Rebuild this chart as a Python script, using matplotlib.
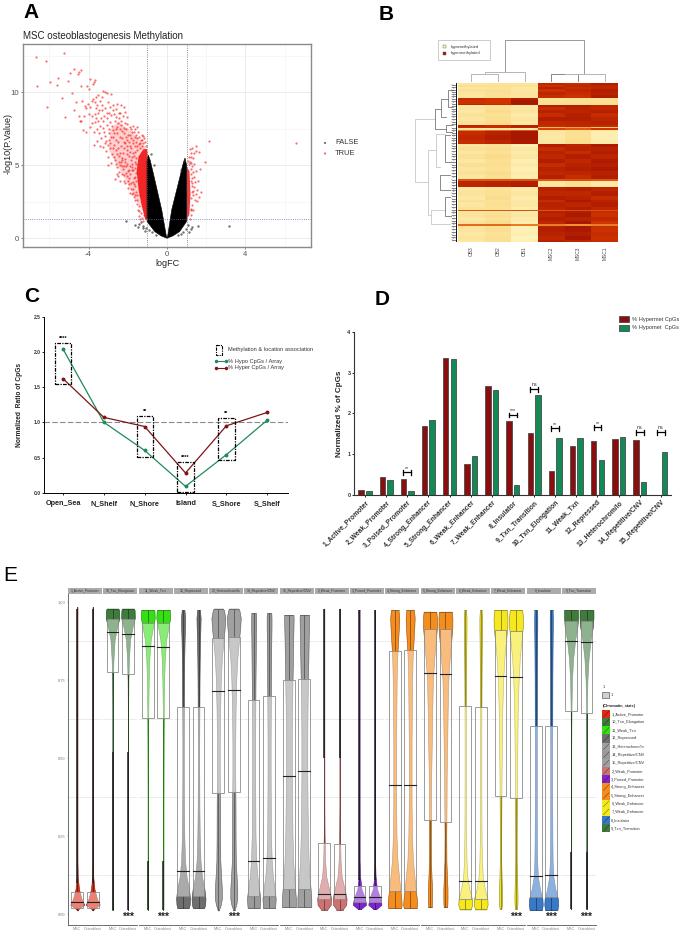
import numpy as np
import matplotlib
matplotlib.use("Agg")
import matplotlib.pyplot as plt
from matplotlib.colors import LinearSegmentedColormap
from matplotlib.patches import Rectangle

plt.rcParams['font.family'] = ['Liberation Sans', 'DejaVu Sans']

FIG_W, FIG_H = 685, 936

# ---- panel A: volcano ----
false_left_x = [0, -0.3, -0.62, -0.85, -1.02, -1.02, -0.96, -0.86, -0.7, -0.27, -0.04]
false_left_y = [0, 0.16, 0.45, 0.85, 1.15, 5.3, 5.7, 5.35, 4.45, 1.94, 0.2]
false_right_x = [0, 0.3, 0.64, 0.85, 1.0, 1.0, 0.92, 0.8, 0.66, 0.24, 0.04]
false_right_y = [0, 0.16, 0.45, 0.85, 1.15, 5.0, 5.5, 5.0, 4.2, 1.94, 0.2]
false_stray_x = [-2.1, -1.62, -1.5, -1.22, -1.2, -1.35, -1.1, 1.3, 1.2, 1.6, 3.15, 1.08, 1.1, -1.42, -1.05, -0.9,
                 -0.78, 0.95, 0.82, 0.72, -0.55, 0.55, -0.8, 0.86, -0.66, 0.74]
false_stray_y = [1.2, 0.9, 0.8, 0.85, 0.68, 1.1, 0.5, 0.8, 0.6, 0.85, 0.85, 0.9, 0.45, 0.95, 0.7, 0.55,
                 0.4, 0.6, 0.45, 0.3, 0.2, 0.2, 5.75, 5.3, 5.0, 4.7]

red_cloud_x = [-1.0, -1.5, -2.0, -2.5, -2.95, -2.9, -2.5, -1.9, -1.3, -1.0]
red_cloud_y = [1.3, 2.5, 3.7, 4.9, 6.0, 7.4, 8.0, 7.4, 6.6, 6.0]
red_dense_x = [-1.0, -1.12, -1.3, -1.45, -1.55, -1.45, -1.2, -1.02, -1.0]
red_dense_y = [1.25, 1.3, 2.3, 3.3, 4.6, 5.6, 6.1, 6.1, 5.8]
red_dense_right_x = [1.0, 1.14, 1.2, 1.15, 1.0]
red_dense_right_y = [1.3, 1.6, 3.0, 4.6, 4.9]

red_pts = [
    (-6.71, 12.43), (-5.28, 12.66), (-6.17, 12.16), (-6.66, 10.45), (-5.96, 10.68), (-5.54, 10.95),
    (-5.62, 10.52), (-6.12, 8.98), (-5.37, 9.61), (-5.23, 8.3), (-4.86, 9.95), (-5.06, 10.8),
    (-4.94, 11.3), (-4.75, 11.6), (-4.5, 11.36), (-4.4, 11.55), (-4.52, 11.22), (-4.41, 10.4),
    (-4.1, 10.4), (-3.99, 10.2), (-3.92, 10.9), (-3.7, 10.86), (-3.8, 10.55), (-3.75, 10.7),
    (-4.67, 9.3), (-4.74, 8.8), (-4.33, 9.43), (-4.5, 8.35), (-4.4, 8.05), (-4.3, 7.4), (-4.12, 7.3),
    (-4.43, 8.0), (-4.05, 9.2), (-4.15, 8.95), (-3.95, 9.0), (-3.85, 9.4), (-3.8, 9.55), (-3.65, 9.35),
    (-3.55, 9.1), (-3.4, 9.4), (-3.3, 9.7), (-3.25, 10.1), (-3.15, 10.0), (-3.05, 9.95), (-2.85, 9.9),
    (-3.45, 8.8), (-3.5, 8.6), (-3.7, 8.5), (-3.85, 8.35), (-3.65, 7.95), (-3.6, 8.2), (-3.3, 8.8),
    (-3.15, 8.9), (-3.0, 9.3), (-2.9, 9.0), (-2.75, 9.15), (-2.6, 8.85), (-2.55, 9.2), (-2.35, 9.15),
    (-2.2, 9.0), (-2.45, 8.6), (-2.7, 8.5), (-2.85, 8.45), (-3.05, 8.2), (-3.25, 8.0), (-3.4, 7.7),
    (-3.55, 7.5), (-3.45, 7.2), (-3.25, 7.55), (-3.05, 7.75), (-2.9, 7.95), (-2.65, 8.05), (-2.45, 8.2),
    (-2.25, 8.35), (-2.05, 8.3), (-2.15, 7.9), (-2.35, 7.75), (-2.55, 7.65), (-2.75, 7.4), (-2.95, 7.2),
    (-3.15, 7.0), (-3.35, 6.85), (-3.55, 6.65), (-3.4, 6.3), (-3.15, 6.55), (-2.95, 6.75), (-2.75, 6.95),
    (-2.55, 7.2), (-2.3, 7.35), (-2.1, 7.5), (-1.9, 7.65), (-1.75, 7.7), (-1.55, 7.6), (-1.5, 7.3),
    (-1.7, 7.25), (-1.9, 7.05), (-2.1, 6.95), (-2.3, 6.85), (-2.5, 6.6), (-2.7, 6.4), (-2.9, 6.2),
    (-3.1, 5.95), (-3.0, 5.55), (-2.8, 5.8), (-2.6, 6.05), (-2.35, 6.3), (-2.15, 6.5), (-1.95, 6.6),
    (-1.75, 6.75), (-1.55, 6.85), (-1.35, 6.7), (-1.3, 7.05), (-1.2, 6.5), (-1.45, 6.45), (-1.65, 6.3),
    (-1.85, 6.15), (-2.05, 6.05), (-2.25, 5.85), (-2.45, 5.6), (-2.65, 5.35), (-2.85, 5.15), (-3.0, 5.0),
    (-2.55, 4.9), (-2.35, 5.2), (-2.15, 5.45), (-1.95, 5.65), (-1.75, 5.85), (-1.85, 5.35), (-2.05, 5.05),
    (-2.25, 4.75), (-2.45, 4.55), (-2.65, 4.05), (-2.4, 3.95), (-2.2, 4.3), (-2.0, 4.6), (-1.8, 4.85),
    (-1.95, 4.15), (-2.15, 3.75), (-2.0, 3.45), (-1.85, 3.8), (-1.75, 3.35), (-1.9, 3.1), (-1.65, 2.95),
    (-1.55, 2.6), (-1.6, 3.15), (-1.45, 2.2), (-1.35, 1.75), (-1.4, 2.95), (-1.7, 4.1), (-1.6, 4.45),
    (-1.9, 4.4), (-2.1, 4.95), (-1.65, 5.25), (-1.7, 5.6), (-1.55, 6.05), (-1.4, 6.15), (-2.4, 6.95),
    (-2.0, 7.1), (-1.8, 7.3), (-1.6, 7.05), (-2.5, 7.9), (-2.2, 7.55), (-2.95, 8.6), (-3.2, 8.4),
    (-3.6, 8.95), (-4.0, 8.5), (-1.25, 7.0), (-1.15, 6.85), (-1.05, 6.35), (-1.12, 6.6), (-1.3, 6.35),
    (-1.9, 5.9), (-2.3, 5.5), (-2.7, 5.55), (-2.55, 5.75), (-2.05, 5.75), (-1.8, 4.65), (-2.3, 4.4),
    (-1.95, 3.7), (-1.75, 3.85), (-1.8, 3.05), (-1.65, 3.6), (-1.55, 2.95), (-1.45, 1.85), (-1.3, 1.4),
    (-2.45, 5.25), (-2.9, 6.5), (-2.6, 6.75), (-3.1, 6.65), (-2.2, 6.6), (-1.6, 6.6), (-3.75, 6.4),
    # thickening next to the black arm
    (-1.58, 3.9), (-1.62, 4.2), (-1.68, 3.7), (-1.72, 4.7), (-1.78, 5.1), (-1.6, 5.05), (-1.62, 4.8), (-1.56, 5.5),
    (-1.64, 5.9), (-1.8, 5.55), (-1.9, 4.95), (-1.92, 4.7), (-2.02, 4.25), (-1.72, 3.1), (-1.5, 1.95), (-1.52, 2.35),
    (-1.42, 1.55), (-1.38, 1.35), (-1.25, 1.2), (-1.18, 1.6), (-1.62, 2.65), (-1.7, 2.85), (-1.82, 3.4), (-1.98, 3.95),
    (-2.1, 4.45), (-2.18, 4.95), (-2.32, 4.95), (-2.42, 5.0), (-2.6, 5.1), (-2.48, 4.25), (-2.2, 3.95), (-2.55, 4.4),
    (-2.28, 5.35), (-2.12, 5.25), (-2.38, 5.85), (-2.18, 6.2), (-2.52, 6.2), (-2.05, 6.35), (-1.88, 6.35), (-1.72, 6.5),
    (-1.52, 6.3), (-1.38, 6.55), (-1.28, 6.75), (-1.42, 6.9), (-1.62, 6.95), (-1.85, 6.85), (-2.02, 6.75), (-2.2, 7.2),
    (-2.42, 7.5), (-2.62, 7.45), (-2.82, 7.7), (-2.98, 7.5), (-2.68, 7.2), (-2.85, 6.95), (-3.02, 6.4), (-2.75, 6.15),
    (-3.25, 6.25), (-3.2, 7.3), (-3.35, 8.25), (-3.5, 8.05), (-2.35, 8.0), (-2.05, 7.85), (-1.85, 7.5), (-1.65, 7.5),
    (-2.6, 8.3), (-2.75, 8.8), (-3.08, 8.55), (-2.38, 8.55), (-2.12, 8.65), (-3.85, 7.9), (-3.72, 7.25), (-3.95, 7.65),
    (-4.25, 8.35), (-4.2, 9.05), (-3.5, 9.8), (-3.6, 9.65), (-3.3, 9.1),
    # positive side
    (2.13, 6.67), (6.6, 6.5), (1.47, 6.3), (1.3, 6.2), (1.17, 6.1), (1.4, 5.85), (1.65, 5.9), (1.5, 5.95),
    (1.25, 5.85), (1.33, 5.5), (1.2, 5.55), (1.08, 5.3), (1.4, 5.05), (1.95, 5.2), (1.7, 4.75), (1.5, 4.6),
    (1.3, 4.95), (1.12, 5.05), (1.25, 4.4), (1.4, 4.2), (1.45, 3.85), (1.6, 3.9), (1.3, 3.8), (1.55, 3.3),
    (1.75, 3.15), (1.65, 2.85), (1.5, 3.0), (1.35, 3.25), (1.42, 2.6), (1.3, 2.3), (1.25, 2.0), (1.35, 1.95),
    (1.28, 3.55), (1.22, 1.6), (1.15, 1.35), (1.55, 2.55), (1.2, 4.75), (1.1, 5.55), (1.25, 2.75), (1.33, 4.55),
    (1.22, 3.95), (1.28, 3.2), (1.4, 3.5), (1.2, 1.95), (1.3, 4.1), (1.18, 5.2), (1.35, 2.95), (1.25, 5.15),
]
red_x = [p[0] for p in red_pts]
red_y = [p[1] for p in red_pts]

# ---- panel B: heatmap, stripes top to bottom ----
sample_names = ['OB3', 'OB2', 'OB1', 'MSC2', 'MSC3', 'MSC1']
stripe_height = [8, 6, 8, 7, 10, 10, 4, 12, 4, 5, 10, 10, 10, 12, 13, 5, 5, 6, 3, 12, 15, 10,
                 10, 12, 10, 14, 12, 12, 14, 12, 11, 5, 15, 5, 12, 13, 12, 8, 15, 8, 3, 5, 12, 14, 9, 4, 5, 15, 12, 12, 5]
ob3 = [.22, .32, .2, .28, .22, .2, .85, .82, .9, .18, .24, .18, .26, .2, .26, .9, .85, .2, .6, .85, .88, .85,
       .22, .3, .2, .28, .18, .3, .22, .28, .2, .7, .9, .88, .2, .25, .18, .28, .2, .26, .7, .22, .25, .18, .26, .65, .22, .24, .18, .24, .2]
ob2 = [.25, .28, .25, .3, .28, .26, .8, .8, .85, .28, .3, .34, .28, .32, .34, .85, .85, .2, .65, .92, .95, .9,
       .26, .32, .28, .34, .3, .32, .28, .34, .3, .7, .92, .9, .25, .3, .34, .28, .3, .26, .7, .25, .3, .26, .34, .65, .28, .32, .26, .3, .3]
ob1 = [.25, .28, .2, .22, .24, .22, .95, 1.0, .95, .18, .2, .24, .16, .22, .18, .92, .9, .15, .7, 1.0, 1.0, .98,
       .1, .22, .14, .2, .12, .16, .08, .14, .1, .7, .95, .98, .15, .22, .14, .18, .2, .12, .72, .16, .2, .14, .12, .6, .08, .06, .1, .05, .08]
msc2 = [.88, .82, .92, .82, .9, .85, .25, .28, .3, .95, .85, .92, .85, .95, .88, .85, .45, .75, .3, .2, .18, .2,
        .95, .85, .92, .88, .95, .85, .92, .88, .93, .7, .2, .25, .92, .88, .95, .85, .92, .9, .7, .93, .9, .95, .88, .6, .9, .95, .92, .88, .93]
msc3 = [.84, .88, .84, .88, .85, .82, .3, .3, .35, .95, .92, .9, .93, .95, .9, .88, .5, .7, .35, .3, .3, .32,
        .9, .92, .85, .95, .88, .92, .95, .9, .85, .72, .3, .32, .95, .88, .92, .98, .9, .95, .72, .95, .98, .92, 1.0, .55, 1.0, .98, .95, 1.0, .9]
msc1 = [.95, .9, .88, .95, .92, .96, .3, .3, .3, .9, .88, .93, .85, .9, .92, .85, .4, .8, .2, .12, .1, .15,
        .98, .92, .95, .9, .97, .93, .98, .92, .95, .7, .15, .18, .9, .95, .85, .92, .95, .88, .72, .85, .82, .88, .8, .6, .85, .82, .85, .82, .85]

# dendrogram brackets: (left pos, right pos, bar height, left base, right base)
top_merges = [(1.75, 4.72, 127, 30, 25), (0.5, 1.5, 25, 0, 0), (1.0, 2.5, 29, 25, 0),
              (3.5, 4.5, 23, 0, 0), (4.0, 5.5, 25, 23, 0)]
top_grey = ['#999999', '#b5b5b5', '#b5b5b5', '#888888', '#b5b5b5']
side_merges = [(107, 297, 127, 67, 87), (77, 137, 67, 47, 32), (47, 102, 47, 27, 32), (22, 72, 27, 12, 14),
               (127, 147, 32, 15, 15), (202, 397, 87, 62, 80), (152, 252, 62, 37, 52), (157, 237, 37, 20, 18),
               (275, 320, 52, 22, 22), (382, 422, 80, 37, 22), (342, 400, 37, 20, 18)]
side_light = [0, 5, 6, 9]
side_leaf_y = [5, 12, 20, 26, 33, 40, 47, 55, 62, 70, 78, 85, 92, 100, 108, 116, 124, 135, 142, 150, 156, 165, 172, 181,
               188, 195, 204, 212, 219, 228, 236, 245, 252, 262, 270, 280, 290, 298, 306, 315, 322, 330, 338, 347,
               355, 363, 372, 381, 388, 396, 405, 414, 421, 430, 438, 447, 455, 463, 470]

# ---- panel C ----
regions = ['Open_Sea', 'N_Shelf', 'N_Shore', 'Island', 'S_Shore', 'S_Shelf']
hypo_ratio = [2.04, 1.0, 0.6, 0.09, 0.54, 1.03]
hyper_ratio = [1.62, 1.07, 0.94, 0.28, 0.95, 1.14]
assoc_region = [0, 2, 3, 4]
assoc_lo = [1.54, 0.51, 0.015, 0.46]
assoc_hi = [2.13, 1.09, 0.44, 1.06]
assoc_stars = ['****', '**', '****', '**']

# ---- panel D ----
states_d = ['1_Active_Promoter', '2_Weak_Promoter', '3_Poised_Promoter', '4_Strong_Enhancer', '5_Strong_Enhancer',
            '6_Weak_Enhancer', '7_Weak_Enhancer', '8_Insulator', '9_Txn_Transition', '10_Txn_Elongation',
            '11_Weak_Txn', '12_Repressed', '13_Heterochrom/lo', '14_Repetitive/CNV', '15_Repetitive/CNV']
hypermet = [.13, .43, .40, 1.70, 3.35, .75, 2.68, 1.81, 1.52, .60, 1.20, 1.32, 1.38, 1.34, 0]
hypomet = [.11, .36, .09, 1.84, 3.33, .96, 2.56, .25, 2.46, 1.39, 1.39, .86, 1.43, .32, 1.05]
sig_group = [2, 7, 8, 9, 11, 13, 14]
sig_level = [.557, 1.96, 2.59, 1.63, 1.66, 1.54, 1.54]
sig_label = ['**', '***', 'ns', '**', '**', 'ns', 'ns']

# ---- panel E: one entry per facet ----
facet_names = ['1_Active_Promoter', '10_Txn_Elongation', '11_Weak_Txn', '12_Repressed', '13_Heterochrom/lo',
               '14_Repetitive/CNV', '15_Repetitive/CNV', '2_Weak_Promoter', '3_Poised_Promoter', '4_Strong_Enhancer',
               '5_Strong_Enhancer', '6_Weak_Enhancer', '7_Weak_Enhancer', '8_Insulator', '9_Txn_Transition']
facet_colors = ['#DE2A12', '#3E7B3C', '#35DF12', '#6E6E6E', '#A0A0A0', '#9A9A9A', '#A0A0A0', '#CC7272', '#7C25CC',
                '#F58C1E', '#F58C1E', '#F6E81E', '#F6E81E', '#3A78C8', '#3E7B3C']
msc_q1 = [.02, .776, .628, .058, .388, .059, .079, .047, .04, .075, .303, .047, .379, .054, .652]
msc_med = [.04, .905, .859, .137, .716, .169, .442, .066, .054, .413, .773, .107, .764, .121, .876]
msc_q3 = [.07, .945, .934, .665, .885, .687, .75, .228, .089, .844, .914, .667, .91, .602, .939]
ost_q1 = [.02, .77, .628, .058, .391, .058, .079, .047, .04, .074, .294, .047, .372, .054, .646]
ost_med = [.04, .90, .857, .137, .718, .179, .458, .066, .054, .413, .771, .107, .76, .124, .873]
ost_q3 = [.07, .945, .934, .665, .889, .70, .753, .226, .089, .846, .914, .663, .909, .603, .939]
violin_min = [.012, .014, .014, .02, .012, .02, .023, .014, .016, .02, .022, .015, .017, .013, .016]
violin_max = [.985, .98, .975, .975, .98, .965, .96, .98, .975, .975, .97, .975, .975, .975, .975]
# stretch of the tail that looks black and thick
tail_lo = [.10, .014, .014, 0, 0, 0, 0, .50, .11, 0, 0, 0, 0, 0, .016]
tail_hi = [.98, .52, .17, 0, 0, 0, 0, .98, .975, 0, 0, 0, 0, 0, .20]
star_facets = [1, 2, 4, 12, 13, 14]

violin_levels = [.015, .03, .05, .08, .12, .17, .25, .35, .45, .55, .65, .75, .82, .88, .92, .95, .975, .99]
violin_width = [
    [.10, 1, .60, .25, .07, .03, .03, .03, .03, .03, .03, .03, .03, .03, .03, .03, .03, .03],
    [.03, .03, .03, .03, .03, .03, .03, .03, .03, .03, .03, .05, .14, .30, .65, .98, .95, .60],
    [.03, .03, .03, .03, .03, .03, .03, .03, .04, .05, .07, .13, .22, .42, .75, 1, .95, .70],
    [.75, .95, 1, .85, .50, .28, .17, .12, .10, .10, .12, .14, .17, .22, .27, .30, .20, .05],
    [.12, .35, .50, .50, .40, .28, .25, .24, .20, .20, .25, .35, .50, .75, .92, 1, .80, .40],
    [.85, .90, .95, .80, .55, .38, .27, .24, .22, .22, .24, .27, .30, .32, .35, .35, .30, .20],
    [1, 1, 1, .90, .75, .62, .52, .46, .42, .42, .45, .52, .58, .62, .66, .68, .60, .30],
    [.45, .95, 1, .72, .30, .14, .06, .03, .03, .03, .03, .03, .03, .03, .03, .03, .03, .03],
    [.15, .95, .80, .30, .10, .03, .02, .02, .02, .02, .02, .02, .02, .02, .02, .02, .02, .02],
    [.90, 1, .95, .80, .62, .40, .26, .20, .20, .20, .24, .28, .35, .50, .60, .65, .55, .20],
    [.20, .28, .30, .30, .22, .14, .12, .16, .18, .26, .32, .42, .62, .85, 1, 1, .90, .50],
    [.80, 1, .95, .60, .30, .18, .12, .10, .09, .09, .10, .12, .14, .16, .18, .18, .12, .05],
    [.12, .20, .22, .20, .15, .10, .10, .12, .15, .20, .25, .38, .55, .80, .98, 1, .90, .50],
    [.90, 1, .95, .60, .30, .20, .16, .14, .14, .14, .15, .16, .18, .20, .22, .22, .20, .10],
    [.03, .03, .03, .03, .03, .03, .03, .03, .03, .03, .05, .13, .30, .60, .90, 1, 1, .80],
]


def ax_px(fig, x0, y0, x1, y1):
    # axes placed by pixel box (y measured from the top)
    return fig.add_axes([x0 / FIG_W, 1 - y1 / FIG_H, (x1 - x0) / FIG_W, (y1 - y0) / FIG_H])


def darker(color, k=0.55):
    rgb = np.array(matplotlib.colors.to_rgb(color))
    return tuple(rgb * k)


def plot_volcano(fig, page):
    ax = ax_px(fig, 23, 44, 311, 247)
    ax.set_xlim(-7.35, 7.35)
    ax.set_ylim(-0.6, 13.3)
    for v in [-6, -2, 2, 6]:
        ax.axvline(v, color='#f4f4f4', lw=0.5, zorder=0)
    for v in [2.5, 7.5, 12.5]:
        ax.axhline(v, color='#f4f4f4', lw=0.5, zorder=0)
    ax.grid(True, color='#ececec', lw=0.7, zorder=0)
    ax.set_axisbelow(True)
    ax.fill(red_cloud_x, red_cloud_y, color='#ff2a2a', alpha=0.22, lw=0, zorder=1)
    ax.fill(red_dense_x, red_dense_y, color='#f00808', alpha=0.85, lw=0, zorder=2)
    ax.fill(red_dense_right_x, red_dense_right_y, color='#f00808', alpha=0.8, lw=0, zorder=2)
    ax.scatter(red_x, red_y, s=2.6, color='#fa1010', alpha=0.6, lw=0, zorder=2)
    ax.fill(false_left_x, false_left_y, color='black', lw=0.4, zorder=3)
    ax.fill(false_right_x, false_right_y, color='black', lw=0.4, zorder=3)
    ax.scatter(false_stray_x, false_stray_y, s=3, color='#333333', alpha=0.7, lw=0, zorder=3)
    ax.axvline(-1, color='#666666', lw=0.6, ls=':', zorder=4)
    ax.axvline(1, color='#666666', lw=0.6, ls=':', zorder=4)
    ax.axhline(1.3, color='#6a6ac8', lw=0.6, ls=':', zorder=4)
    ax.set_xticks([-4, 0, 4])
    ax.set_xticklabels(['-4', '0', '4'])
    ax.set_yticks([0, 5, 10])
    ax.tick_params(labelsize=5.6, labelcolor='#555555', color='#555555', length=1.5, width=0.5, pad=1.5)
    for s in ax.spines.values():
        s.set_color('#8a8a8a')
        s.set_linewidth(1.0)
    page.text(167, 263, 'logFC', fontsize=6.5, color='#222222', ha='center', va='center')
    page.text(8, 143, '-log10(P.Value)', fontsize=6.5, color='#222222', rotation=90, ha='center', va='center')
    page.text(23, 39, 'MSC osteoblastogenesis Methylation', fontsize=7.0, color='#222222', va='baseline')
    page.scatter([325, 325], [143, 153.5], s=2.5, color=['#333333', '#ff2020'], alpha=0.7, lw=0)
    page.text(335, 143, 'FALSE', fontsize=5.4, color='#333333', va='center')
    page.text(335, 153.5, 'TRUE', fontsize=5.4, color='#333333', va='center')


def plot_heatmap(fig, page):
    ax = ax_px(fig, 458, 83, 618, 242)
    rows = np.repeat(np.arange(len(stripe_height)), stripe_height)
    matrix = np.array([ob3, ob2, ob1, msc2, msc3, msc1]).T[rows]
    cmap = LinearSegmentedColormap.from_list('heat', [(0, '#fff6c0'), (0.35, '#fbdc8c'), (0.55, '#f09030'),
                                                      (0.8, '#cf3300'), (1, '#a81800')])
    ax.imshow(matrix, aspect='auto', cmap=cmap, vmin=0, vmax=1, interpolation='nearest')
    ax.set_xticks(np.arange(6))
    ax.set_xticklabels(sample_names, rotation=90, fontsize=3.5, color='#444444')
    ax.set_yticks([])
    ax.tick_params(length=0, pad=3)
    for s in ax.spines.values():
        s.set_visible(False)

    top = ax_px(fig, 458, 39, 618, 82)
    top.set_xlim(0, 6)
    top.set_ylim(0, 129)
    top.axis('off')
    for (a, b, h, ba, bb), c in zip(top_merges, top_grey):
        top.plot([a, a, b, b], [ba, h, h, bb], color=c, lw=0.7)

    side = ax_px(fig, 415, 83, 457, 242)
    side.set_xlim(127, 0)
    side.set_ylim(477, 0)
    side.axis('off')
    for i, (a, b, h, ba, bb) in enumerate(side_merges):
        c = '#c8c8c8' if i in side_light else '#777777'
        side.plot([ba, h, h, bb], [a, a, b, b], color=c, lw=0.6)
    for y in side_leaf_y:
        side.plot([0, 16], [y, y], color='#333333', lw=0.4)
        side.plot([16, 9], [y, y + 4], color='#666666', lw=0.35)
    side.plot([1, 1], [0, 477], color='black', lw=1.3)

    page.add_patch(Rectangle((438, 40), 52, 20, fc='white', ec='#cccccc', lw=0.7))
    page.add_patch(Rectangle((443, 45), 3.2, 3.2, fc='#fff6c0', ec='#555555', lw=0.3))
    page.add_patch(Rectangle((443, 51.5), 3.2, 3.2, fc='#a81800', ec='#555555', lw=0.3))
    page.text(451, 46.7, 'hypomethylated', fontsize=2.9, color='#333333', va='center')
    page.text(451, 53.2, 'hypermethylated', fontsize=2.9, color='#333333', va='center')


def plot_regions(fig, page):
    ax = ax_px(fig, 44, 316.7, 288, 492.7)
    ax.set_xlim(-0.466, 5.51)
    ax.set_ylim(0, 2.5)
    x = np.arange(len(regions))
    ax.axhline(1.0, color='#8a8a8a', lw=0.8, ls=(0, (5, 2)), zorder=1)
    ax.plot(x, hypo_ratio, '-o', color='#1f8a5c', lw=0.9, ms=1.8, zorder=3)
    ax.plot(x, hyper_ratio, '-o', color='#7f1416', lw=0.9, ms=1.8, zorder=3)
    for i, lo, hi, star in zip(assoc_region, assoc_lo, assoc_hi, assoc_stars):
        ax.add_patch(Rectangle((i - 0.2, lo), 0.4, hi - lo, fc='none', ec='black', lw=0.9,
                               ls=(0, (3, 1, 1, 1)), zorder=4, clip_on=False))
        ax.text(i, hi + 0.03, star, fontsize=4, fontweight='bold', ha='center', va='bottom')
    ax.set_xticks(x)
    ax.set_xticklabels(regions, fontsize=5.2, fontweight='bold', color='#222222')
    ax.set_yticks([0, 0.5, 1.0, 1.5, 2.0, 2.5])
    ax.set_yticklabels(['0.0', '0.5', '1.0', '1.5', '2.0', '2.5'], fontsize=3.6, fontweight='bold', color='#333333')
    ax.tick_params(length=1.5, width=0.6, pad=1)
    ax.tick_params(axis='x', pad=3.5)
    ax.patch.set_alpha(0)
    for s in ['top', 'right']:
        ax.spines[s].set_visible(False)
    for s in ['left', 'bottom']:
        ax.spines[s].set_linewidth(0.7)
    page.text(19.5, 405, 'Normalized  Ratio of CpGs', fontsize=4.8, fontweight='bold', rotation=90, ha='center',
              va='center', color='#222222')
    page.add_patch(Rectangle((216, 344.5), 6.5, 10, fc='none', ec='black', lw=0.8, ls=(0, (3, 1, 1, 1))))
    page.text(228, 350, 'Methylation & location association', fontsize=4.1, color='#333333', va='center')
    page.plot([216, 226], [361, 361], '-o', color='#1f8a5c', lw=0.8, ms=1.5)
    page.plot([216, 226], [368, 368], '-o', color='#7f1416', lw=0.8, ms=1.5)
    page.text(228, 361, '% Hypo CpGs / Array', fontsize=4.1, color='#333333', va='center')
    page.text(228, 368, '% Hyper CpGs / Array', fontsize=4.1, color='#333333', va='center')


def plot_states(fig, page):
    ax = ax_px(fig, 354.3, 331.7, 671, 495)
    ax.set_xlim(-0.506, 14.48)
    ax.set_ylim(0, 4)
    x = np.arange(len(states_d))
    edge = '#4a4a4a'
    ax.bar(x - 0.18, hypermet, 0.26, color='#8b0e0e', edgecolor=edge, lw=0.6)
    ax.bar(x + 0.18, hypomet, 0.26, color='#128a55', edgecolor=edge, lw=0.6)
    for g, lvl, lab in zip(sig_group, sig_level, sig_label):
        ax.plot([g - 0.18, g + 0.18], [lvl, lvl], color='black', lw=0.9)
        ax.plot([g - 0.18, g - 0.18], [lvl - 0.06, lvl + 0.06], color='black', lw=0.9)
        ax.plot([g + 0.18, g + 0.18], [lvl - 0.06, lvl + 0.06], color='black', lw=0.9)
        ax.text(g, lvl + (0.06 if lab == 'ns' else 0.04), lab, fontsize=3.8, ha='center', va='bottom', color='#222222')
    ax.set_xticks(x)
    ax.set_xticklabels(states_d, rotation=45, ha='right', rotation_mode='anchor', fontsize=4.9, fontweight='bold',
                       color='#333333')
    ax.set_yticks([0, 1, 2, 3, 4])
    ax.set_yticklabels(['0', '1', '2', '3', '4'], fontsize=4, fontweight='bold', color='#333333')
    ax.tick_params(length=1.5, width=0.6, pad=1.2)
    for s in ['top', 'right']:
        ax.spines[s].set_visible(False)
    for s in ['left', 'bottom']:
        ax.spines[s].set_linewidth(0.8)
        ax.spines[s].set_color('#333333')
    ax.set_ylabel('Normalized % of CpGs', fontsize=5.8, fontweight='bold', color='#222222', labelpad=3)
    page.add_patch(Rectangle((619, 316), 10, 6, fc='#8b0e0e', ec=edge, lw=0.6))
    page.add_patch(Rectangle((619, 325), 10, 6, fc='#128a55', ec=edge, lw=0.6))
    page.text(632, 319, '% Hypermet CpGs', fontsize=4.1, color='#333333', va='center')
    page.text(632, 328, '% Hypomet  CpGs', fontsize=4.1, color='#333333', va='center')


def draw_violin(ax, pos, k, q1, med, q3):
    color = facet_colors[k]
    dark = darker(color)
    lo, hi = violin_min[k], violin_max[k]
    keep = [i for i, v in enumerate(violin_levels) if lo < v < hi]
    ys = [lo] + [violin_levels[i] for i in keep] + [hi]
    ws = np.interp(ys, violin_levels, violin_width[k]) * 0.45
    ax.fill_betweenx(ys, pos - ws, pos + ws, facecolor=color, edgecolor=dark, lw=0.4, zorder=2)
    ax.plot([pos - ws[0], pos + ws[0]], [lo, lo], color=dark, lw=0.4, zorder=2)
    ax.plot([pos - ws[-1], pos + ws[-1]], [hi, hi], color=dark, lw=0.4, zorder=2)
    ax.plot([pos, pos], [lo, q1], color=dark, lw=0.6, zorder=3)
    ax.plot([pos, pos], [q3, hi], color=dark, lw=0.6, zorder=3)
    ax.add_patch(Rectangle((pos - 0.38, q1), 0.76, q3 - q1, fc=(1, 1, 1, 0.42), ec='#8c8c8c', lw=0.6, zorder=4))
    ax.plot([pos - 0.38, pos + 0.38], [med, med], color='#222222', lw=0.8, zorder=5)
    if tail_hi[k] > 0:
        # the black run of the tail sits outside the box
        a, b = tail_lo[k], tail_hi[k]
        if b <= q1 or a >= q3:
            ax.plot([pos, pos], [a, b], color='#1c1c1c', lw=1.1, zorder=3, solid_capstyle='butt')
        else:
            ax.plot([pos, pos], [a, min(b, q1)], color='#1c1c1c', lw=1.1, zorder=3, solid_capstyle='butt')
            ax.plot([pos, pos], [max(a, q3), b], color='#1c1c1c', lw=1.1, zorder=3, solid_capstyle='butt')


def plot_facets(fig, page):
    pitch = 35.27
    for k, name in enumerate(facet_names):
        x0 = 68 + k * pitch
        ax = ax_px(fig, x0, 593, x0 + 34, 925)
        ax.set_xlim(0.4, 2.6)
        ax.set_ylim(-0.035, 1.03)
        for g in [.125, .375, .625, .875]:
            ax.axhline(g, color='#ebebeb', lw=0.7, zorder=0)
        draw_violin(ax, 1, k, msc_q1[k], msc_med[k], msc_q3[k])
        draw_violin(ax, 2, k, ost_q1[k], ost_med[k], ost_q3[k])
        if k in star_facets:
            ax.text(2, -0.0096, '***', fontsize=7.5, fontweight='bold', ha='center', va='center', color='#222222')
        ax.set_xticks([1, 2])
        ax.set_xticklabels(['MSC', 'Osteoblast'], fontsize=2.7, color='#888888')
        ax.tick_params(axis='x', length=0.8, width=0.3, pad=1, color='#888888')
        for s in ['top', 'right', 'left']:
            ax.spines[s].set_visible(False)
        ax.spines['bottom'].set_linewidth(0.6)
        ax.spines['bottom'].set_color('#555555')
        if k == 0:
            ax.spines['left'].set_visible(True)
            ax.spines['left'].set_linewidth(0.6)
            ax.spines['left'].set_color('#555555')
            ax.set_yticks([0, .25, .5, .75, 1])
            ax.set_yticklabels(['0.00', '0.25', '0.50', '0.75', '1.00'], fontsize=2.9, color='#777777')
            ax.tick_params(axis='y', length=0.8, width=0.3, pad=1, color='#888888')
        else:
            ax.set_yticks([])
        page.add_patch(Rectangle((x0, 587.7), 34, 6, fc='#ababab', ec='none'))
        page.text(x0 + 17, 590.7, name, fontsize=2.4, color='#333333', ha='center', va='center')

    # legend
    page.text(602.5, 687.5, '1', fontsize=2.8, color='#333333', va='center')
    page.add_patch(Rectangle((602.5, 691.5), 6.5, 6.5, fc='#d0d0d0', ec='#777777', lw=0.6))
    page.text(610.5, 695, '1', fontsize=2.8, color='#333333', va='center')
    page.text(602.5, 706.5, '(Chromatin_state)', fontsize=2.8, fontweight='bold', color='#222222', va='center')
    for k, name in enumerate(facet_names):
        y0 = 710 + k * 8.15
        page.add_patch(Rectangle((602.5, y0), 7.5, 8.15, fc=facet_colors[k], ec='none'))
        page.plot([603.5, 609], [y0 + 7, y0 + 1.2], color=darker(facet_colors[k], 0.5), lw=0.4)
        page.text(611.3, y0 + 4, name, fontsize=2.8, color='#333333', va='center')


def main():
    fig = plt.figure(figsize=(FIG_W / 100, FIG_H / 100), dpi=100)
    page = fig.add_axes([0, 0, 1, 1], zorder=5)
    page.set_xlim(0, FIG_W)
    page.set_ylim(FIG_H, 0)
    page.axis('off')
    page.patch.set_alpha(0)

    plot_volcano(fig, page)
    plot_heatmap(fig, page)
    plot_regions(fig, page)
    plot_states(fig, page)
    plot_facets(fig, page)

    page.text(23, 18, 'A', fontsize=15, fontweight='bold', va='baseline')
    page.text(379, 20, 'B', fontsize=15, fontweight='bold', va='baseline')
    page.text(24, 302, 'C', fontsize=15, fontweight='bold', va='baseline')
    page.text(375, 305, 'D', fontsize=15, fontweight='bold', va='baseline')
    page.text(3, 581, 'E', fontsize=15, va='baseline')

    fig.savefig('out.png', dpi=100)
    plt.close(fig)


if __name__ == "__main__":
    main()
